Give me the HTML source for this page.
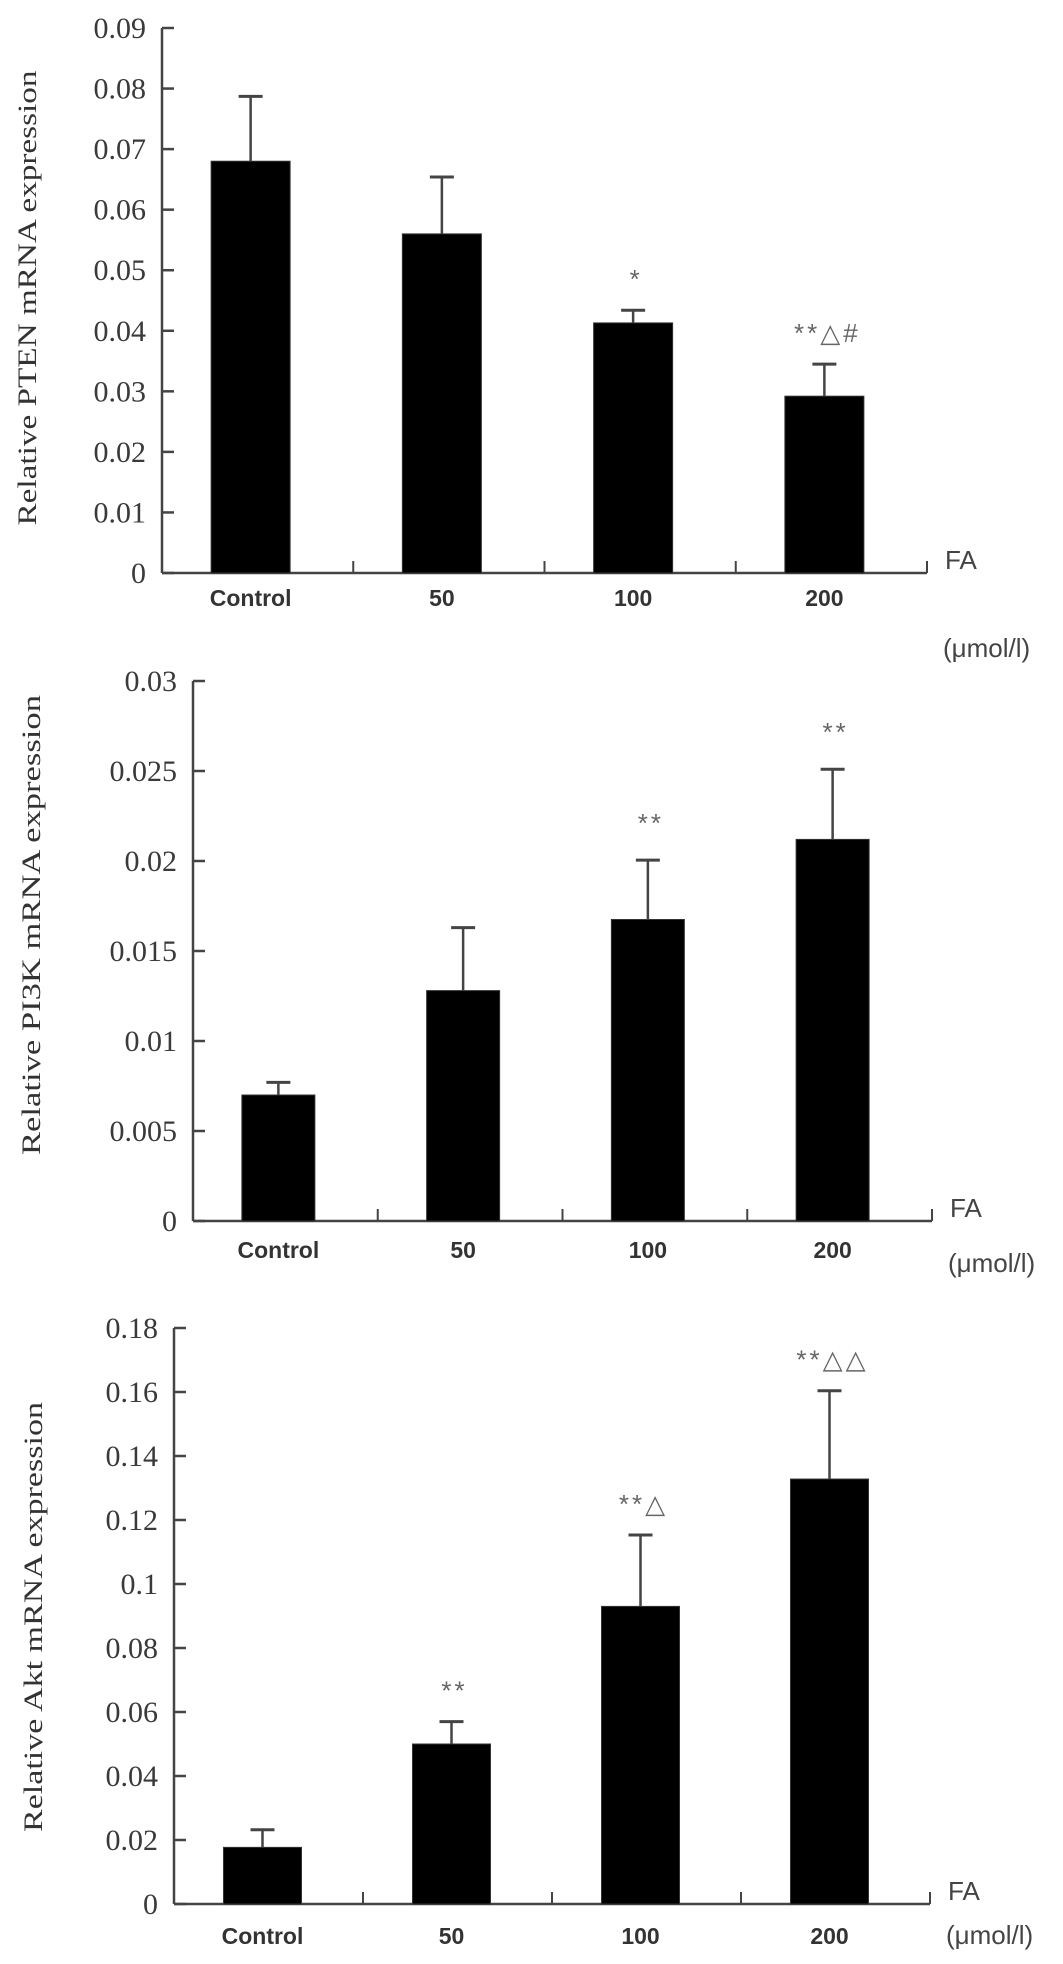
<!DOCTYPE html>
<html><head><meta charset="utf-8">
<style>
html,body{margin:0;padding:0;background:#fff;}
svg{display:block;}
.tick{font-family:"Liberation Serif",serif;font-size:30px;fill:#3a3a3a;}
.cat{font-family:"Liberation Sans",sans-serif;font-weight:bold;font-size:23px;fill:#333;}
.unit{font-family:"Liberation Sans",sans-serif;font-size:26px;fill:#444;}
.ytitle{font-family:"Liberation Serif",serif;font-size:26px;fill:#333;}
.ann{font-family:"Liberation Sans","DejaVu Sans",sans-serif;font-size:26px;fill:#666;letter-spacing:3px;}
</style></head>
<body>
<svg id="fig" width="1063" height="1964" viewBox="0 0 1063 1964" xmlns="http://www.w3.org/2000/svg"></svg>
<script>
// ---- data ----
const categories = ["Control", "50", "100", "200"];
const ptenValues = [0.068, 0.056, 0.0413, 0.0292];
const ptenErrors = [0.0107, 0.0094, 0.0021, 0.0053];
const ptenTicks = [0, 0.01, 0.02, 0.03, 0.04, 0.05, 0.06, 0.07, 0.08, 0.09];
const ptenTickLabels = ["0","0.01","0.02","0.03","0.04","0.05","0.06","0.07","0.08","0.09"];
const ptenAnnotations = ["", "", "*", "**\u25B3#"];

const pi3kValues = [0.0070, 0.0128, 0.01675, 0.0212];
const pi3kErrors = [0.0007, 0.0035, 0.0033, 0.0039];
const pi3kTicks = [0, 0.005, 0.01, 0.015, 0.02, 0.025, 0.03];
const pi3kTickLabels = ["0","0.005","0.01","0.015","0.02","0.025","0.03"];
const pi3kAnnotations = ["", "", "**", "**"];

const aktValues = [0.0177, 0.050, 0.093, 0.1328];
const aktErrors = [0.0055, 0.007, 0.0223, 0.0276];
const aktTicks = [0, 0.02, 0.04, 0.06, 0.08, 0.1, 0.12, 0.14, 0.16, 0.18];
const aktTickLabels = ["0","0.02","0.04","0.06","0.08","0.1","0.12","0.14","0.16","0.18"];
const aktAnnotations = ["", "**", "**\u25B3", "**\u25B3\u25B3"];

const NS = "http://www.w3.org/2000/svg";
const svg = document.getElementById("fig");
function mk(tag, attrs, parent, text){
  const e = document.createElementNS(NS, tag);
  for (const k in attrs) e.setAttribute(k, attrs[k]);
  if (text !== undefined) e.textContent = text;
  (parent || svg).appendChild(e);
  return e;
}

function drawChart(cfg, values, errors, ticks, tickLabels, annots){
  const g = mk("g", {});
  
  
  const ymax = ticks[ticks.length-1];
  const yScale = v => cfg.y0 - (v / ymax) * (cfg.y0 - cfg.yTop);
  const bandW = (cfg.xEnd - cfg.x0) / categories.length;
  const xCenter = i => cfg.x0 + bandW * (i + 0.5) + cfg.shift;
  const stroke = "#444";
  const ya = mk("line", {x1:cfg.x0, y1:cfg.yTop, x2:cfg.x0, y2:cfg.y0, stroke:stroke, "stroke-width":2.5}, g);
  
  
  ticks.forEach((t, i) => {
    const y = yScale(t);
    const tl = mk("line", {x1:cfg.x0, y1:y, x2:cfg.x0+12, y2:y, stroke:stroke, "stroke-width":2.5}, g);
    
    
    const tx = mk("text", {x:cfg.x0-16, y:y+10, "text-anchor":"end", class:"tick"}, g, tickLabels[i]);
    
    
  });
  const xa = mk("line", {x1:cfg.x0, y1:cfg.y0, x2:cfg.xEnd, y2:cfg.y0, stroke:stroke, "stroke-width":2.5}, g);
  
  
  for (let i = 1; i <= categories.length; i++){
    const x = cfg.x0 + bandW * i;
    const s = mk("line", {x1:x, y1:cfg.y0, x2:x, y2:cfg.y0-12, stroke:stroke, "stroke-width":2}, g);
    
    
  }
  categories.forEach((c, i) => {
    const cx = xCenter(i);
    const top = yScale(values[i]);
    const bar = mk("rect", {x:cx - cfg.barW/2, y:top, width:cfg.barW, height:cfg.y0 - top, fill:"#000", stroke:"#333", "stroke-width":1}, g);
    
    
    const et = yScale(values[i] + errors[i]);
    const ev = mk("line", {x1:cx, y1:top, x2:cx, y2:et, stroke:stroke, "stroke-width":2.5}, g);
    
    
    const ec = mk("line", {x1:cx-12, y1:et, x2:cx+12, y2:et, stroke:stroke, "stroke-width":3}, g);
    
    
    const lab = mk("text", {x:cx, y:cfg.labelY, "text-anchor":"middle", class:"cat"}, g, c);
    
    
    if (annots[i]) {
      const a = mk("text", {x:cx + 3, y:et - cfg.annGap, "text-anchor":"middle", class:"ann"}, g, annots[i]);
      
      
    }
  });
  const fa = mk("text", {x:cfg.xEnd + 18, y:cfg.y0 - 4, class:"unit"}, g, "FA");
  
  
  const un = mk("text", {x:cfg.xEnd + 16, y:cfg.unitY, class:"unit"}, g, "(\u03BCmol/l)");
  
  
  const yt = mk("text", {x:0, y:0, "text-anchor":"middle", class:"ytitle", transform:`translate(${cfg.titleX},${cfg.titleY}) rotate(-90)`, textLength:cfg.titleLen, lengthAdjust:"spacingAndGlyphs"}, g, cfg.title);
  
  
}

drawChart({name:"pten-chart", x0:162, xEnd:927, y0:573, yTop:28, barW:79, shift:-7, labelY:606, unitY:657,
  titleX:36, titleY:298, titleLen:455, title:"Relative PTEN mRNA expression", annGap:22},
  ptenValues, ptenErrors, ptenTicks, ptenTickLabels, ptenAnnotations);

drawChart({name:"pi3k-chart", x0:193, xEnd:932, y0:1221, yTop:681, barW:73, shift:-7, labelY:1258, unitY:1272,
  titleX:40, titleY:925, titleLen:460, title:"Relative PI3K mRNA expression", annGap:28},
  pi3kValues, pi3kErrors, pi3kTicks, pi3kTickLabels, pi3kAnnotations);

drawChart({name:"akt-chart", x0:174, xEnd:930, y0:1904, yTop:1328, barW:78, shift:-6, labelY:1944, unitY:1944,
  titleX:42, titleY:1617, titleLen:430, title:"Relative Akt mRNA expression", annGap:22},
  aktValues, aktErrors, aktTicks, aktTickLabels, aktAnnotations);
</script>
</body></html>
